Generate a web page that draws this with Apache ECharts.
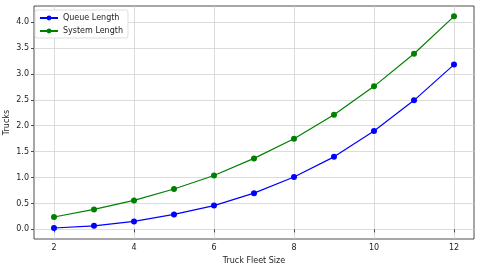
<!DOCTYPE html>
<html>
<head>
<meta charset="utf-8">
<script src="https://cdn.jsdelivr.net/npm/echarts@6/dist/echarts.min.js"></script>
<style>html,body{margin:0;padding:0;background:#fff}#c{width:480px;height:268px}</style>
</head>
<body>
<div id="c"></div>
<script>
const fleetSizes = [2, 3, 4, 5, 6, 7, 8, 9, 10, 11, 12];
const queueLength = [0.027, 0.07, 0.154, 0.29, 0.46, 0.70, 1.01, 1.40, 1.90, 2.49, 3.18];
const systemLength = [0.24, 0.385, 0.56, 0.78, 1.04, 1.37, 1.75, 2.21, 2.76, 3.39, 4.11];
const xTicks = [2, 4, 6, 8, 10, 12];
const yTicks = [0, 0.5, 1, 1.5, 2, 2.5, 3, 3.5, 4];

const font = 'DejaVu Sans';
const chart = echarts.init(document.getElementById('c'), null, {renderer: 'canvas'});
const pairs = arr => fleetSizes.map((x, i) => [x, arr[i]]);
chart.setOption({
  animation: false,
  textStyle: {fontFamily: font},
  grid: {left: 34, right: 6, top: 6, bottom: 29, containLabel: false, outerBoundsMode: 'none',
    show: true, borderColor: '#222', borderWidth: 0.8, backgroundColor: 'transparent'},
  legend: {
    orient: 'vertical', left: 35, top: 10,
    backgroundColor: '#fff', borderColor: '#d5d5d5', borderWidth: 0.8, borderRadius: 2,
    padding: [4, 5, 3, 4], itemGap: 5, itemWidth: 18, itemHeight: 6,
    textStyle: {fontFamily: font, fontSize: 8, color: '#222'},
    data: ['Queue Length', 'System Length']
  },
  xAxis: {
    type: 'value', min: 1.5, max: 12.5,
    name: 'Truck Fleet Size', nameLocation: 'middle', nameGap: 18, nameMoveOverlap: false,
    nameTextStyle: {fontFamily: font, fontSize: 8, color: '#222'},
    axisLine: {show: false},
    axisTick: {show: true, length: 3, customValues: xTicks, lineStyle: {color: '#222', width: 0.8}},
    axisLabel: {customValues: xTicks, fontFamily: font, fontSize: 8, color: '#222', margin: 5},
    splitLine: {show: true, lineStyle: {color: '#d3d3d3', width: 0.8}}
  },
  yAxis: {
    type: 'value', min: -0.185, max: 4.31,
    name: 'Trucks', nameLocation: 'middle', nameGap: 23, nameMoveOverlap: false,
    nameTextStyle: {fontFamily: font, fontSize: 8, color: '#222'},
    axisLine: {show: false},
    axisTick: {show: true, length: 3, customValues: yTicks, lineStyle: {color: '#222', width: 0.8}},
    axisLabel: {customValues: yTicks, fontFamily: font, fontSize: 8, color: '#222', margin: 5,
      formatter: v => v.toFixed(1)},
    splitLine: {show: true, lineStyle: {color: '#d3d3d3', width: 0.8}}
  },
  series: [
    {name: 'Queue Length', type: 'line', data: pairs(queueLength), symbol: 'circle', symbolSize: 6,
     itemStyle: {color: '#0000ff'}, lineStyle: {color: '#0000ff', width: 1.2}},
    {name: 'System Length', type: 'line', data: pairs(systemLength), symbol: 'circle', symbolSize: 6,
     itemStyle: {color: '#008000'}, lineStyle: {color: '#008000', width: 1.2}}
  ]
});
</script>
</body>
</html>
